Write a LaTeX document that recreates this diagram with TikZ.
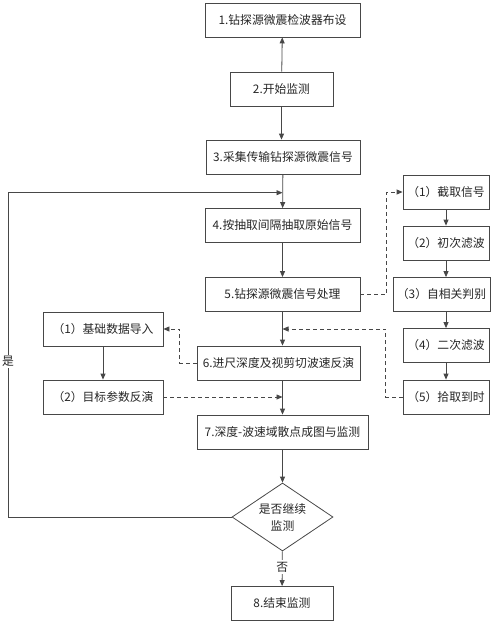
\documentclass[tikz,border=0pt]{standalone}
\usepackage{fontspec}
\setmainfont{Noto Sans CJK SC}
\usetikzlibrary{arrows.meta,shapes.geometric}

\begin{document}
\begin{tikzpicture}[x=1pt,y=-1pt,
  stepbox/.style={draw=LineGray,line width=0.8pt,text=TextGray,
    minimum height=34pt,inner sep=1pt,font=\fontsize{11.8}{17}\selectfont},
  decision/.style={stepbox,diamond,aspect=1.49,minimum width=101pt,
    minimum height=68pt,inner sep=0pt,align=center},
  flow/.style={draw=LineGray,line width=0.8pt,-{Triangle[length=6pt,width=5pt]}},
  dashflow/.style={flow,dash pattern=on 4pt off 3pt},
  lbl/.style={fill=white,text=TextGray,inner sep=1.5pt,font=\fontsize{11.8}{14}\selectfont}]

%Defining grey colors
\colorlet{LineGray}{black!72}
\colorlet{TextGray}{black!85}

\useasboundingbox (0,0) rectangle (500,624);

%Main column
\node[stepbox,minimum width=155pt] (s1) at (282.5,20) {1.钻探源微震检波器布设};
\node[stepbox,minimum width=103pt] (s2) at (281.5,89) {2.开始监测};
\node[stepbox,minimum width=154pt] (s3) at (283,157) {3.采集传输钻探源微震信号};
\node[stepbox,minimum width=155pt] (s4) at (282.5,225.5) {4.按抽取间隔抽取原始信号};
\node[stepbox,minimum width=155pt] (s5) at (282.5,294.5) {5.钻探源微震信号处理};
\node[stepbox,minimum width=163pt] (s6) at (278.5,363) {6.进尺深度及视剪切波速反演};
\node[stepbox,minimum width=171pt] (s7) at (282.5,432) {7.深度-波速域散点成图与监测};
\node[decision] (dec) at (282.5,517) {是否继续\\监测};
\node[stepbox,minimum width=102pt] (s8) at (282,603.5) {8.结束监测};

%Signal processing steps
\node[stepbox,minimum width=86pt] (r1) at (446,192) {（1）截取信号};
\node[stepbox,minimum width=86pt] (r2) at (446,243) {（2）初次滤波};
\node[stepbox,minimum width=97pt] (r3) at (441.5,294.5) {（3）自相关判别};
\node[stepbox,minimum width=86pt] (r4) at (446,345.5) {（4）二次滤波};
\node[stepbox,minimum width=86pt] (r5) at (446,397) {（5）拾取到时};

%Inversion steps
\node[stepbox,minimum width=120pt] (l1) at (103,329) {（1）基础数据导入};
\node[stepbox,minimum width=120pt] (l2) at (103,397) {（2）目标参数反演};

%Join points
\coordinate (fb) at (282.5,192.7);
\coordinate (fbl) at (8,192.7);
\coordinate (m56) at (282.5,329);
\coordinate (m67) at (282.5,397);

%Main arrows
\draw[flow] (s2) -- (s1);
\draw[flow] (s2) -- (s3.north -| s2.south);
\draw[flow] (s3) -- (s4);
\draw[flow] (s4) -- (s5);
\draw[flow] (s5.south) -- (s5.south |- s6.north);
\draw[flow] (s5.south |- s6.south) -- (s7);
\draw[flow] (s7) -- (dec);
\draw[flow] (dec) -- node[lbl,pos=0.45] {否} (s8);

%Loop back
\draw[flow] (dec.west) -- (fbl |- dec.west) -- node[lbl,pos=0.48] {是} (fbl) -- (fb);

%Right column
\draw[flow] (r1) -- (r2);
\draw[flow] (r2) -- (r3.north -| r2.south);
\draw[flow] (r3.south -| r4.north) -- (r4);
\draw[flow] (r4) -- (r5);
\draw[dashflow] (s5.east) -- ++(26,0) |- (r1.west);
\draw[dashflow] (r5.west) -- ++(-17,0) |- (m56);

%Left column
\draw[flow] (l1) -- (l2);
\draw[dashflow] (s6.west) -- ++(-17,0) |- (l1.east);
\draw[dashflow] (l2.east) -- (m67);

\end{tikzpicture}
\end{document}
